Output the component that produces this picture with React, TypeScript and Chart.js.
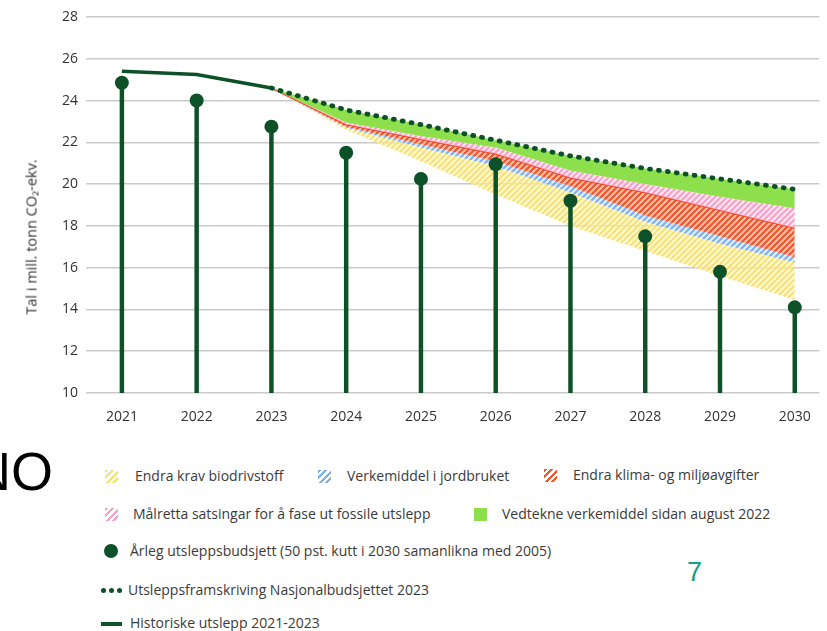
import React, { useEffect, useRef } from 'react';
import { Chart, registerables } from 'chart.js';

Chart.register(...registerables);

// ---------- data ----------
const years = [2021, 2022, 2023, 2024, 2025, 2026, 2027, 2028, 2029, 2030];
const yTicks = [10, 12, 14, 16, 18, 20, 22, 24, 26, 28];

const historicYears = [2021, 2022, 2023];
const historic = [25.4, 25.25, 24.6];

// Årleg utsleppsbudsjett
const budget = [24.85, 24.0, 22.75, 21.5, 20.25, 20.95, 19.2, 17.5, 15.8, 14.1];

const projYears = [2023, 2024, 2025, 2026, 2027, 2028, 2029, 2030];
// Utsleppsframskriving Nasjonalbudsjettet 2023 (top of stack)
const projection = [24.6, 23.55, 22.85, 22.1, 21.35, 20.75, 20.25, 19.75];
// lower edge after each measure
const afterVedtekne = [24.6, 22.95, 22.3, 21.75, 20.65, 20.0, 19.4, 18.85];
const afterMalretta = [24.6, 22.85, 22.15, 21.45, 20.3, 19.6, 18.75, 17.9];
const afterAvgifter = [24.6, 22.75, 21.9, 21.1, 19.9, 18.5, 17.5, 16.5];
const afterJordbruk = [24.6, 22.7, 21.75, 20.85, 19.6, 18.2, 17.15, 16.25];
const afterBiodrivstoff = [24.6, 22.6, 21.1, 19.5, 18.0, 16.8, 15.6, 14.45];

const legendRow1 = ['Endra krav biodrivstoff', 'Verkemiddel i jordbruket', 'Endra klima- og miljøavgifter'];
const legendRow2 = ['Målretta satsingar for å fase ut fossile utslepp', 'Vedtekne verkemiddel sidan august 2022'];
const legendBudget = 'Årleg utsleppsbudsjett (50 pst. kutt i 2030 samanlikna med 2005)';
const legendProj = 'Utsleppsframskriving Nasjonalbudsjettet 2023';
const legendHist = 'Historiske utslepp 2021-2023';

// ---------- styles ----------
const DARK = '#0c5128';
const GREEN = '#8ddf4c';
const YELLOW = { bg: 'rgba(253,244,190,0.55)', fg: '#f6e07a' };
const BLUE = { bg: 'rgba(214,230,250,0.6)', fg: '#7fb0ee' };
const RED = { bg: 'rgba(248,176,150,0.75)', fg: '#f0552c' };
const PINK = { bg: 'rgba(252,224,236,0.7)', fg: '#f4a2c6' };
const FONT = "'Open Sans', sans-serif";

function makePattern(bg: string, fg: string, size = 6, lw = 2.2) {
  const c = document.createElement('canvas');
  c.width = size;
  c.height = size;
  const ctx = c.getContext('2d')!;
  ctx.fillStyle = bg;
  ctx.fillRect(0, 0, size, size);
  ctx.strokeStyle = fg;
  ctx.lineWidth = lw;
  ctx.beginPath();
  ctx.moveTo(-1, size + 1);
  ctx.lineTo(size + 1, -1);
  ctx.moveTo(-size / 2 - 1, size / 2 + 1);
  ctx.lineTo(size / 2 + 1, -size / 2 - 1);
  ctx.moveTo(size / 2 - 1, size * 1.5 + 1);
  ctx.lineTo(size * 1.5 + 1, size / 2 - 1);
  ctx.stroke();
  return ctx.createPattern(c, 'repeat')!;
}

const pts = (xs: number[], ys: number[]) => xs.map((x, i) => ({ x, y: ys[i] }));

function hatchIcon(color: string): React.CSSProperties {
  return {
    position: 'absolute',
    width: 13,
    height: 13,
    background: `repeating-linear-gradient(135deg, ${color} 0px, ${color} 2.4px, transparent 2.4px, transparent 4.6px)`,
  };
}

export default function App() {
  const ref = useRef<HTMLCanvasElement>(null);

  useEffect(() => {
    const canvas = ref.current!;
    const yellowP = makePattern(YELLOW.bg, YELLOW.fg);
    const blueP = makePattern(BLUE.bg, BLUE.fg);
    const redP = makePattern(RED.bg, RED.fg);
    const pinkP = makePattern(PINK.bg, PINK.fg);

    const base = { pointRadius: 0, pointHoverRadius: 0, tension: 0, borderWidth: 0 };

    const chart = new Chart(canvas, {
      type: 'line',
      data: {
        datasets: [
          { ...base, label: 'biodrivstoff-bottom', data: pts(projYears, afterBiodrivstoff), fill: false, order: 20 },
          { ...base, label: 'Endra krav biodrivstoff', data: pts(projYears, afterJordbruk), fill: '-1', backgroundColor: yellowP, order: 19 },
          { ...base, label: 'Verkemiddel i jordbruket', data: pts(projYears, afterAvgifter), fill: '-1', backgroundColor: blueP, order: 18 },
          { ...base, label: 'Endra klima- og miljøavgifter', data: pts(projYears, afterMalretta), fill: '-1', backgroundColor: redP, order: 17, borderWidth: 1.6, borderColor: '#f03a12' },
          { ...base, label: 'Målretta satsingar', data: pts(projYears, afterVedtekne), fill: '-1', backgroundColor: pinkP, order: 16 },
          {
            ...base,
            label: 'Utsleppsframskriving',
            data: pts(projYears, projection),
            fill: '-1',
            backgroundColor: GREEN,
            borderColor: DARK,
            borderWidth: 4.8,
            borderDash: [1, 8],
            borderCapStyle: 'round',
            order: 15,
          },
          {
            ...base,
            label: 'Historiske utslepp',
            data: pts(historicYears, historic),
            borderColor: DARK,
            borderWidth: 3.5,
            fill: false,
            order: 14,
          },
          {
            type: 'bar',
            label: 'stems',
            data: years.map((x, i) => ({ x, y: [10, budget[i]] })),
            backgroundColor: DARK,
            barThickness: 3.8,
            grouped: false,
            order: 13,
          } as any,
          {
            label: 'Årleg utsleppsbudsjett',
            data: pts(years, budget),
            showLine: false,
            pointRadius: 7,
            pointHoverRadius: 7,
            pointBackgroundColor: DARK,
            pointBorderWidth: 0,
            borderWidth: 0,
            fill: false,
            order: 12,
          },
        ],
      },
      options: {
        animation: false,
        responsive: false,
        maintainAspectRatio: false,
        events: [],
        layout: { padding: { left: 0, right: 5, top: 17, bottom: 0 } },
        plugins: { legend: { display: false }, tooltip: { enabled: false } },
        scales: {
          x: {
            type: 'linear',
            offset: false,
            min: 2020.52,
            max: 2030.33,
            grid: { display: false, drawTicks: false, offset: false },
            border: { display: false },
            afterBuildTicks: (ax: any) => {
              ax.ticks = years.map((v) => ({ value: v }));
            },
            afterFit: (s: any) => {
              s.height = 40;
            },
            ticks: {
              padding: 16,
              color: '#333',
              font: { family: FONT, size: 14 },
              callback: (v: any) => String(v),
              maxRotation: 0,
              autoSkip: false,
            },
          },
          y: {
            type: 'linear',
            min: 10,
            max: 28,
            afterBuildTicks: (ax: any) => {
              ax.ticks = yTicks.map((v) => ({ value: v }));
            },
            afterFit: (s: any) => {
              s.width = 86;
            },
            grid: { color: '#c9c9c9', lineWidth: 1.5, drawTicks: false },
            border: { display: false },
            ticks: { padding: 8, color: '#333', font: { family: FONT, size: 14 } },
          },
        },
      },
    } as any);
    return () => chart.destroy();
  }, []);

  const text: React.CSSProperties = {
    position: 'absolute',
    fontFamily: FONT,
    fontSize: 14,
    color: '#3a3a3a',
    whiteSpace: 'nowrap',
    lineHeight: '18px',
    transform: 'translateY(-50%)',
  };

  return (
    <div style={{ position: 'fixed', left: 0, top: 0, width: 827, height: 631, background: '#fff', overflow: 'hidden' }}>
      <canvas ref={ref} width={827} height={433} style={{ position: 'absolute', left: 0, top: 0, width: 827, height: 433 }} />

      <div
        style={{
          position: 'absolute',
          left: 31,
          top: 237,
          transform: 'translate(-50%, -50%) rotate(-90deg)',
          fontFamily: FONT,
          fontSize: 14.5,
          color: '#333',
          whiteSpace: 'nowrap',
        }}
      >
        Tal i mill. tonn CO₂-ekv.
      </div>

      <div style={{ position: 'absolute', left: -28, top: 440, fontFamily: "'Liberation Sans', Arial, sans-serif", fontSize: 54, lineHeight: '62px', color: '#000' }}>
        NO
      </div>
      <div style={{ position: 'absolute', left: 687, top: 556, fontFamily: "'Liberation Sans', Arial, sans-serif", fontSize: 27, lineHeight: '32px', color: '#12a08a' }}>
        7
      </div>

      {/* row 1 */}
      <span style={{ ...hatchIcon('#f6e07a'), left: 105, top: 470 }} />
      <span style={{ ...text, left: 135, top: 476 }}>{legendRow1[0]}</span>
      <span style={{ ...hatchIcon('#7fb0ee'), left: 318, top: 470 }} />
      <span style={{ ...text, left: 347, top: 476 }}>{legendRow1[1]}</span>
      <span style={{ ...hatchIcon('#f0552c'), left: 544, top: 469 }} />
      <span style={{ ...text, left: 573, top: 475 }}>{legendRow1[2]}</span>

      {/* row 2 */}
      <span style={{ ...hatchIcon('#f4a2c6'), left: 105, top: 508 }} />
      <span style={{ ...text, left: 133, top: 514 }}>{legendRow2[0]}</span>
      <span style={{ position: 'absolute', left: 474, top: 508, width: 13, height: 13, background: GREEN }} />
      <span style={{ ...text, left: 502, top: 514 }}>{legendRow2[1]}</span>

      {/* row 3 */}
      <span style={{ position: 'absolute', left: 104, top: 544, width: 14, height: 14, borderRadius: '50%', background: DARK }} />
      <span style={{ ...text, left: 130, top: 551 }}>{legendBudget}</span>

      {/* row 4 */}
      {[0, 1, 2].map((i) => (
        <span key={i} style={{ position: 'absolute', left: 101 + i * 8, top: 587.5, width: 5, height: 5, borderRadius: '50%', background: DARK }} />
      ))}
      <span style={{ ...text, left: 128, top: 590 }}>{legendProj}</span>

      {/* row 5 */}
      <span style={{ position: 'absolute', left: 101, top: 622, width: 21, height: 3.5, background: DARK }} />
      <span style={{ ...text, left: 130, top: 623 }}>{legendHist}</span>
    </div>
  );
}
